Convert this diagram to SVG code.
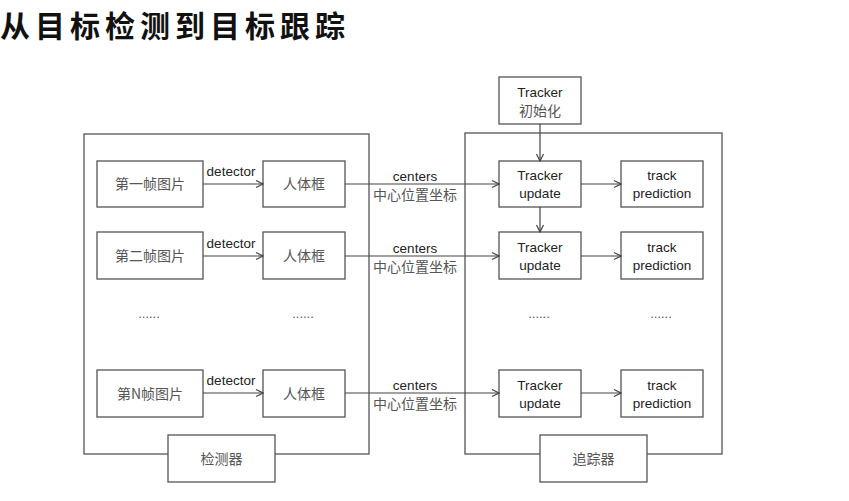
<svg xmlns="http://www.w3.org/2000/svg" width="849" height="501" viewBox="0 0 849 501">
  <style>
    .frame { fill: none; stroke: #555; stroke-width: 1.3; }
    .box { fill: #fff; stroke: #555; stroke-width: 1.3; }
    .cn { font-family: "Noto Sans CJK SC", sans-serif; font-size: 14px; fill: #555; text-anchor: middle; }
    .en { font-family: "Liberation Sans", "Noto Sans", sans-serif; font-size: 13.5px; fill: #222; text-anchor: middle; }
    .lbl { font-family: "Liberation Sans", "Noto Sans", sans-serif; font-size: 13.5px; fill: #222; text-anchor: middle; }
    .dots { font-family: "Liberation Sans", sans-serif; font-size: 13px; fill: #555; text-anchor: middle; }
    .edge { fill: none; stroke: #444; stroke-width: 1.2; marker-end: url(#arrow); }
  </style>
  <defs>
    <marker id="arrow" markerWidth="10" markerHeight="10" refX="9" refY="5" orient="auto" markerUnits="userSpaceOnUse">
      <path d="M2,1.5 L9,5 L2,8.5" fill="none" stroke="#444" stroke-width="1.2"/>
    </marker>
  </defs>
  <rect width="849" height="501" fill="#fff"/>

  <!-- heading -->
  <text x="0" y="37" font-family="Noto Sans CJK SC, sans-serif" font-size="30" font-weight="bold" letter-spacing="5" fill="#111">从目标检测到目标跟踪</text>

  <!-- detector container -->
  <g id="detector-group">
    <rect class="frame" x="84" y="134" width="285" height="320"/>
    <rect class="box" x="168" y="435" width="107" height="47"/>
    <text class="cn" x="221.5" y="463.5">检测器</text>
  </g>

  <!-- tracker container -->
  <g id="tracker-group">
    <rect class="frame" x="465" y="133" width="257" height="321"/>
    <rect class="box" x="540" y="435" width="107" height="47"/>
    <text class="cn" x="593.5" y="463.5">追踪器</text>
  </g>

  <!-- frames -->
  <g id="frame-1">
    <rect class="box" x="97" y="161" width="106" height="46"/>
    <text class="cn" x="150" y="189">第一帧图片</text>
  </g>
  <g id="frame-2">
    <rect class="box" x="97" y="232" width="106" height="47"/>
    <text class="cn" x="150" y="260.5">第二帧图片</text>
  </g>
  <g id="frame-n">
    <rect class="box" x="97" y="370" width="106" height="47"/>
    <text class="cn" x="150" y="398.5">第N帧图片</text>
  </g>

  <!-- person boxes -->
  <g id="body-1">
    <rect class="box" x="263" y="161" width="82" height="46"/>
    <text class="cn" x="304" y="189">人体框</text>
  </g>
  <g id="body-2">
    <rect class="box" x="263" y="232" width="82" height="47"/>
    <text class="cn" x="304" y="260.5">人体框</text>
  </g>
  <g id="body-n">
    <rect class="box" x="263" y="370" width="82" height="47"/>
    <text class="cn" x="304" y="398.5">人体框</text>
  </g>

  <!-- tracker init -->
  <g id="tracker-init">
    <rect class="box" x="499" y="77" width="82" height="47"/>
    <text class="en" x="540" y="97">Tracker</text>
    <text class="cn" x="540" y="115.5">初始化</text>
  </g>

  <!-- tracker updates -->
  <g id="update-1">
    <rect class="box" x="499" y="161" width="82" height="46"/>
    <text class="en" x="540" y="180">Tracker</text>
    <text class="en" x="540" y="198">update</text>
  </g>
  <g id="update-2">
    <rect class="box" x="499" y="232" width="82" height="47"/>
    <text class="en" x="540" y="251.5">Tracker</text>
    <text class="en" x="540" y="269.5">update</text>
  </g>
  <g id="update-n">
    <rect class="box" x="499" y="370" width="82" height="47"/>
    <text class="en" x="540" y="389.5">Tracker</text>
    <text class="en" x="540" y="407.5">update</text>
  </g>

  <!-- predictions -->
  <g id="pred-1">
    <rect class="box" x="621" y="161" width="82" height="46"/>
    <text class="en" x="662" y="180">track</text>
    <text class="en" x="662" y="198">prediction</text>
  </g>
  <g id="pred-2">
    <rect class="box" x="621" y="232" width="82" height="47"/>
    <text class="en" x="662" y="251.5">track</text>
    <text class="en" x="662" y="269.5">prediction</text>
  </g>
  <g id="pred-n">
    <rect class="box" x="621" y="370" width="82" height="47"/>
    <text class="en" x="662" y="389.5">track</text>
    <text class="en" x="662" y="407.5">prediction</text>
  </g>

  <!-- ellipsis rows -->
  <g id="ellipsis">
    <text class="dots" x="149" y="318">......</text>
    <text class="dots" x="303" y="318">......</text>
    <text class="dots" x="539" y="318">......</text>
    <text class="dots" x="661" y="318">......</text>
  </g>

  <!-- connectors -->
  <g id="connectors">
    <path class="edge" d="M203,184 H263"/>
    <path class="edge" d="M203,256 H263"/>
    <path class="edge" d="M203,393 H263"/>
    <path class="edge" d="M345,184 H499"/>
    <path class="edge" d="M345,256 H499"/>
    <path class="edge" d="M345,393 H499"/>
    <path class="edge" d="M581,184 H621"/>
    <path class="edge" d="M581,256 H621"/>
    <path class="edge" d="M581,393 H621"/>
    <path class="edge" d="M540,124 V161"/>
    <path class="edge" d="M540,207 V232"/>
    <text class="lbl" x="231" y="176">detector</text>
    <text class="lbl" x="231" y="248">detector</text>
    <text class="lbl" x="231" y="385">detector</text>
    <text class="lbl" x="415" y="181">centers</text>
    <text class="lbl" x="415" y="253">centers</text>
    <text class="lbl" x="415" y="390">centers</text>
    <text class="cn" x="415" y="199.5">中心位置坐标</text>
    <text class="cn" x="415" y="271.5">中心位置坐标</text>
    <text class="cn" x="415" y="408.5">中心位置坐标</text>
  </g>
</svg>
